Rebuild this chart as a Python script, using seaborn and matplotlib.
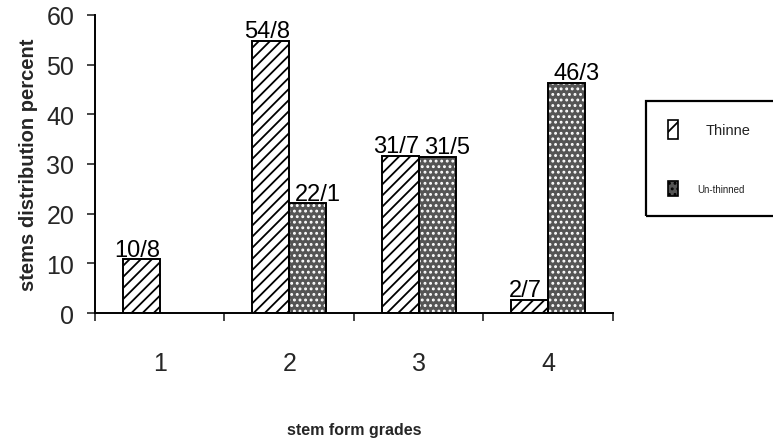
import matplotlib
matplotlib.use("Agg")
import matplotlib.pyplot as plt
from matplotlib.patches import Rectangle
import seaborn as sns
import pandas as pd
import numpy as np

# Stem form grade distribution (percent of stems)
grades = ["1", "2", "3", "4"]
thinned = [10.8, 54.8, 31.7, 2.7]
unthinned = [0.0, 22.1, 31.5, 46.3]
series_names = ["Thinne", "Un-thinned"]
y_ticks = [0, 10, 20, 30, 40, 50, 60]

df = pd.DataFrame({
    "grade": grades * 2,
    "percent": thinned + unthinned,
    "group": [series_names[0]] * len(grades) + [series_names[1]] * len(grades),
})

sns.set_style("white")
plt.rcParams["font.family"] = ["Liberation Sans", "DejaVu Sans"]
plt.rcParams["hatch.linewidth"] = 1.3

fig = plt.figure(figsize=(7.73, 4.39), dpi=100)
ax = fig.add_axes([0.1229, 0.2847, 0.6701, 0.6789])

sns.barplot(data=df, x="grade", y="percent", hue="group", order=grades,
            hue_order=series_names, palette=["white", "white"], width=0.57,
            errorbar=None, legend=False, ax=ax, linewidth=0)

styles = [
    dict(facecolor="white", hatch="///", hatchcol="black", shift=-3),
    dict(facecolor="#555555", hatch="...", hatchcol="white", shift=7),
]
for cont, st, vals in zip(ax.containers, styles, [thinned, unthinned]):
    for p in cont.patches:
        p.set_facecolor(st["facecolor"])
        p.set_edgecolor(st["hatchcol"])
        p.set_hatch(st["hatch"])
        p.set_linewidth(0)
        if p.get_height() > 0:
            ax.add_patch(Rectangle(p.get_xy(), p.get_width(), p.get_height(),
                                   fill=False, edgecolor="black", linewidth=1.4,
                                   zorder=p.get_zorder() + 0.1))
    labels = [f"{v:.1f}".replace(".", "/") if v > 0 else "" for v in vals]
    anns = ax.bar_label(cont, labels=labels, padding=-1, fontsize=17, color="black")
    for a in anns:
        a.xyann = (st["shift"], a.xyann[1])

ax.set_ylim(0, 60)
ax.set_xlim(-0.5, len(grades) - 0.5)
ax.set_yticks(y_ticks)
ax.tick_params(axis="y", direction="out", length=6, width=1.2, pad=9,
               labelsize=18, left=True)

# grade labels sit at bar-group centres, tick marks at group boundaries
ax.set_xticks(range(len(grades)))
ax.set_xticklabels(grades)
ax.tick_params(axis="x", which="major", length=0, pad=27, labelsize=18)
ax.set_xticks(np.arange(-0.5, len(grades), 1.0), minor=True)
ax.tick_params(axis="x", which="minor", direction="out", length=6, width=1.2,
               bottom=True)

for side in ["top", "right"]:
    ax.spines[side].set_visible(False)
for side in ["left", "bottom"]:
    ax.spines[side].set_color("black")
    ax.spines[side].set_linewidth(1.4)

ax.set_xlabel("stem form grades", fontsize=11.5, fontweight="bold", labelpad=34)
ax.set_ylabel("stems distribution percent", fontsize=14.5, fontweight="bold",
              labelpad=6)

# legend box
fig.add_artist(Rectangle((0.8357, 0.5057), 0.2, 0.262, transform=fig.transFigure,
                         fill=False, edgecolor="black", linewidth=1.6,
                         clip_on=False))
fig.add_artist(Rectangle((0.864, 0.681), 0.0129, 0.043, transform=fig.transFigure,
                         facecolor="white", edgecolor="black", hatch="//",
                         linewidth=1.2))
fig.add_artist(Rectangle((0.864, 0.551), 0.0129, 0.034, transform=fig.transFigure,
                         facecolor="#555555", edgecolor="black", hatch="...",
                         linewidth=1.2))
fig.text(0.9134, 0.7016, series_names[0], fontsize=10.5, va="center", ha="left",
         color="#222222")
fig.text(0.9017, 0.567, series_names[1], fontsize=7, va="center", ha="left",
         color="#222222")

fig.savefig("out.png", dpi=100)
